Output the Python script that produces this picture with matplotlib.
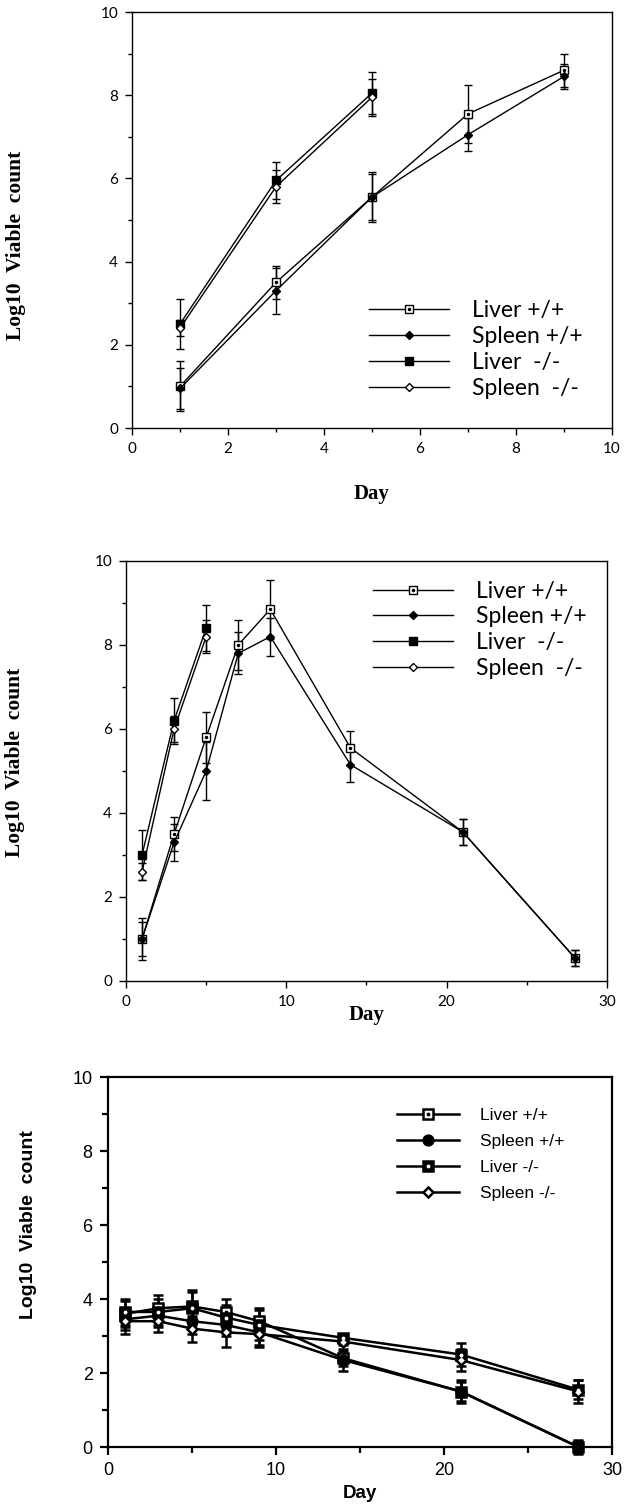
import numpy as np
import matplotlib
matplotlib.use('Agg')
import matplotlib.pyplot as plt
from matplotlib.legend_handler import HandlerTuple
from matplotlib.ticker import MultipleLocator

# top panel, days 1-9
aDay_top_wt = [1, 3, 5, 7, 9]
aDay_top_ko = [1, 3, 5]
aLiver_wt_top = [1.0, 3.5, 5.55, 7.55, 8.6]
aLiver_wt_top_err = [0.6, 0.4, 0.6, 0.7, 0.4]
aSpleen_wt_top = [0.95, 3.3, 5.55, 7.05, 8.45]
aSpleen_wt_top_err = [0.5, 0.55, 0.55, 0.4, 0.3]
aLiver_ko_top = [2.5, 5.95, 8.05]
aLiver_ko_top_err = [0.6, 0.45, 0.5]
aSpleen_ko_top = [2.4, 5.8, 7.95]
aSpleen_ko_top_err = [0.2, 0.4, 0.45]

# middle panel, days 1-28
aDay_mid_wt = [1, 3, 5, 7, 9, 14, 21, 28]
aDay_mid_ko = [1, 3, 5]
aLiver_wt_mid = [1.0, 3.5, 5.8, 8.0, 8.85, 5.55, 3.55, 0.55]
aLiver_wt_mid_err = [0.5, 0.4, 0.6, 0.6, 0.7, 0.4, 0.3, 0.2]
aSpleen_wt_mid = [1.0, 3.3, 5.0, 7.8, 8.2, 5.15, 3.55, 0.55]
aSpleen_wt_mid_err = [0.4, 0.45, 0.7, 0.5, 0.45, 0.4, 0.3, 0.2]
aLiver_ko_mid = [3.0, 6.2, 8.4]
aLiver_ko_mid_err = [0.6, 0.55, 0.55]
aSpleen_ko_mid = [2.6, 6.0, 8.2]
aSpleen_ko_mid_err = [0.2, 0.3, 0.4]

# bottom panel, days 1-28
aDay_bot = [1, 3, 5, 7, 9, 14, 21, 28]
aLiver_wt_bot = [3.6, 3.75, 3.8, 3.65, 3.4, 2.4, 1.5, 0.0]
aLiver_wt_bot_err = [0.35, 0.35, 0.45, 0.35, 0.35, 0.2, 0.3, 0.2]
aSpleen_wt_bot = [3.45, 3.55, 3.4, 3.3, 3.1, 2.35, 1.5, 0.0]
aSpleen_wt_bot_err = [0.3, 0.3, 0.35, 0.3, 0.35, 0.3, 0.25, 0.15]
aLiver_ko_bot = [3.65, 3.65, 3.75, 3.5, 3.3, 2.95, 2.5, 1.55]
aLiver_ko_bot_err = [0.35, 0.35, 0.45, 0.35, 0.4, 0.1, 0.3, 0.25]
aSpleen_ko_bot = [3.4, 3.4, 3.2, 3.1, 3.05, 2.85, 2.35, 1.5]
aSpleen_ko_bot_err = [0.35, 0.3, 0.35, 0.4, 0.35, 0.1, 0.3, 0.3]

aLabel_mac = ['Liver +/+', 'Spleen +/+', 'Liver  -/-', 'Spleen  -/-']
aLabel_pc = ['Liver +/+', 'Spleen +/+', 'Liver -/-', 'Spleen -/-']


def draw_series(ax, x, y, e, marker, mfc, ms, lw, cap, dot=None, z=3):
    eb = ax.errorbar(x, y, yerr=e, color='black', lw=lw, marker=marker,
                     mfc=mfc, mec='black', ms=ms, mew=lw, capsize=cap,
                     elinewidth=lw, capthick=lw, zorder=z, clip_on=False)
    line = eb.lines[0]
    if dot is None:
        return line
    d, = ax.plot(x, y, ls='none', marker='o', ms=ms * 0.25, mfc=dot,
                 mec=dot, zorder=z + 0.5, clip_on=False)
    return (line, d)


def style_axes(ax, lw, xmax, xmajor, xminor, font, size, major_len, minor_len):
    ax.set_xlim(0, xmax)
    ax.set_ylim(0, 10)
    ax.xaxis.set_major_locator(MultipleLocator(xmajor))
    ax.xaxis.set_minor_locator(MultipleLocator(xminor))
    ax.yaxis.set_major_locator(MultipleLocator(2))
    ax.yaxis.set_minor_locator(MultipleLocator(1))
    ax.tick_params(which='major', direction='out', length=major_len, width=lw,
                   labelsize=size, pad=5)
    ax.tick_params(which='minor', direction='out', length=minor_len, width=lw)
    for s in ax.spines.values():
        s.set_linewidth(lw)
    for t in ax.get_xticklabels() + ax.get_yticklabels():
        t.set_fontfamily(font)


fig = plt.figure(figsize=(6.31, 15.10), dpi=100)

sFont_mac = 'Lato'
sFont_serif = 'Liberation Serif'
sFont_pc = 'Liberation Sans'

# ---------- top panel
ax1 = fig.add_axes([132 / 631, 1 - 428 / 1510, 480 / 631, 416 / 1510])
h1 = draw_series(ax1, aDay_top_wt, aLiver_wt_top, aLiver_wt_top_err, 's', 'white', 6, 1.0, 2.8, dot='black')
h2 = draw_series(ax1, aDay_top_wt, aSpleen_wt_top, aSpleen_wt_top_err, 'D', 'black', 4, 1.0, 2.8)
h3 = draw_series(ax1, aDay_top_ko, aLiver_ko_top, aLiver_ko_top_err, 's', 'black', 6, 1.0, 2.8)
h4 = draw_series(ax1, aDay_top_ko, aSpleen_ko_top, aSpleen_ko_top_err, 'D', 'white', 4, 1.0, 2.8)
style_axes(ax1, 1.0, 10, 2, 1, sFont_mac, 11, 5, 3)
ax1.set_xlabel('Day', fontfamily=sFont_serif, fontweight='bold', fontsize=15, labelpad=20)
ax1.set_ylabel('Log10  Viable  count', fontfamily=sFont_serif, fontweight='bold', fontsize=15.5)
ax1.yaxis.set_label_coords(-0.22, 0.44)
ax1.legend([h1, h2, h3, h4], aLabel_mac, loc='upper left', bbox_to_anchor=(0.47, 0.335),
           frameon=False, handlelength=3.5, handletextpad=1.0, labelspacing=0.22,
           borderpad=0, prop={'family': sFont_mac, 'size': 16.5},
           handler_map={tuple: HandlerTuple(ndivide=1, pad=0)})

# ---------- middle panel
ax2 = fig.add_axes([126 / 631, 1 - 981 / 1510, 481 / 631, 420 / 1510])
h1 = draw_series(ax2, aDay_mid_wt, aLiver_wt_mid, aLiver_wt_mid_err, 's', 'white', 6, 1.0, 2.8, dot='black')
h2 = draw_series(ax2, aDay_mid_wt, aSpleen_wt_mid, aSpleen_wt_mid_err, 'D', 'black', 4, 1.0, 2.8)
h3 = draw_series(ax2, aDay_mid_ko, aLiver_ko_mid, aLiver_ko_mid_err, 's', 'black', 6, 1.0, 2.8)
h4 = draw_series(ax2, aDay_mid_ko, aSpleen_ko_mid, aSpleen_ko_mid_err, 'D', 'white', 4, 1.0, 2.8)
style_axes(ax2, 1.0, 30, 10, 5, sFont_mac, 11, 5, 3)
ax2.set_xlabel('Day', fontfamily=sFont_serif, fontweight='bold', fontsize=15, labelpad=-3)
ax2.set_ylabel('Log10  Viable  count', fontfamily=sFont_serif, fontweight='bold', fontsize=15.5)
ax2.yaxis.set_label_coords(-0.21, 0.52)
ax2.legend([h1, h2, h3, h4], aLabel_mac, loc='upper left', bbox_to_anchor=(0.49, 0.98),
           frameon=False, handlelength=3.5, handletextpad=1.0, labelspacing=0.2,
           borderpad=0, prop={'family': sFont_mac, 'size': 16.5},
           handler_map={tuple: HandlerTuple(ndivide=1, pad=0)})

# ---------- bottom panel
ax3 = fig.add_axes([108 / 631, 1 - 1447 / 1510, 504 / 631, 370 / 1510])
h1 = draw_series(ax3, aDay_bot, aLiver_wt_bot, aLiver_wt_bot_err, 's', 'white', 7, 1.8, 3.5, dot='black')
h2 = draw_series(ax3, aDay_bot, aSpleen_wt_bot, aSpleen_wt_bot_err, 'o', 'black', 7, 1.8, 3.5)
h3 = draw_series(ax3, aDay_bot, aLiver_ko_bot, aLiver_ko_bot_err, 's', 'black', 7, 1.8, 3.5, dot='white')
h4 = draw_series(ax3, aDay_bot, aSpleen_ko_bot, aSpleen_ko_bot_err, 'D', 'white', 5, 1.8, 3.5)
style_axes(ax3, 1.6, 30, 10, 5, sFont_pc, 13, 6, 4)
ax3.set_xlabel('Day', fontfamily=sFont_pc, fontweight='bold', fontsize=13.5, labelpad=4)
ax3.set_ylabel('Log10  Viable  count', fontfamily=sFont_pc, fontweight='bold', fontsize=14)
ax3.yaxis.set_label_coords(-0.14, 0.6)
ax3.legend([h1, h2, h3, h4], aLabel_pc, loc='upper left', bbox_to_anchor=(0.556, 0.94),
           frameon=False, handlelength=3.6, handletextpad=1.2, labelspacing=0.62,
           borderpad=0, prop={'family': sFont_pc, 'size': 12.5},
           handler_map={tuple: HandlerTuple(ndivide=1, pad=0)})

fig.savefig('out.png', dpi=100)
plt.close(fig)
